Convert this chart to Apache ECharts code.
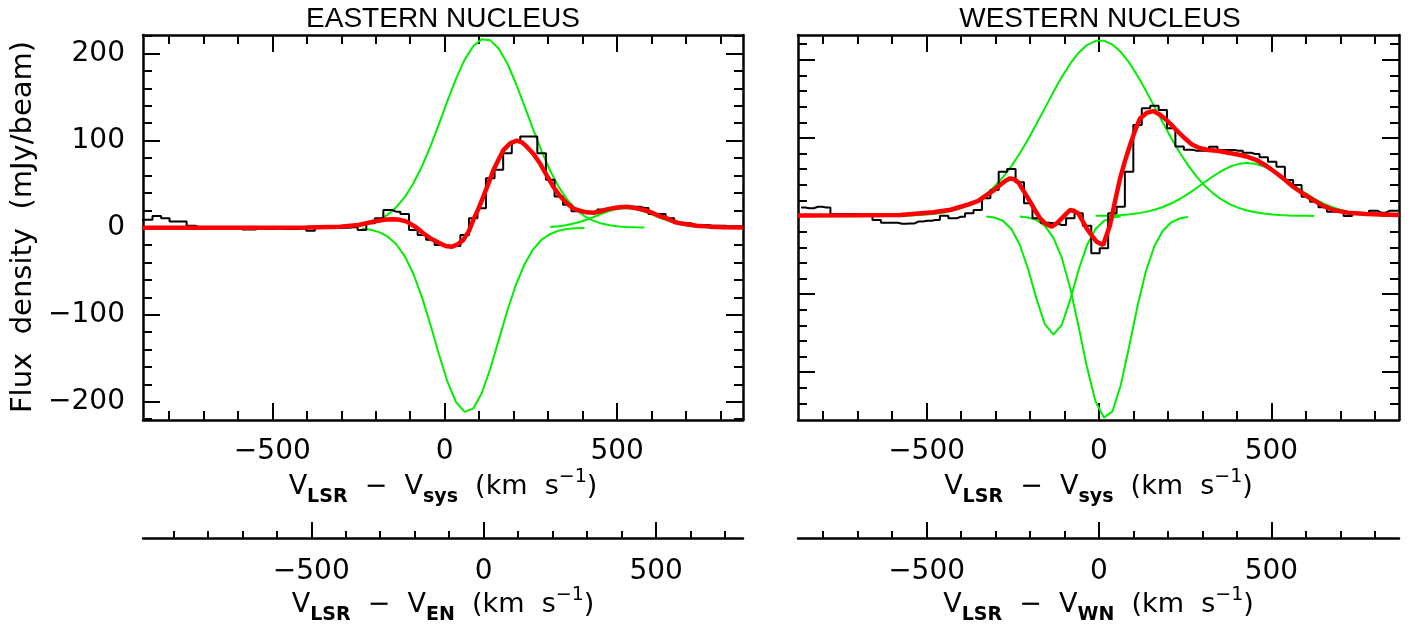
<!DOCTYPE html>
<html>
<head>
<meta charset="utf-8">
<title>Eastern / Western nucleus spectra</title>
<script src="https://cdn.jsdelivr.net/npm/echarts@6/dist/echarts.min.js"></script>
<style>
  html, body { margin: 0; padding: 0; background: #fff; }
  #main { width: 1418px; height: 628px; }
</style>
</head>
<body>
<div id="main"></div>
<script>
// ---- eastern nucleus: channel velocity (km/s) and flux density (mJy/beam)
const enVel = [-885, -860, -835, -810, -786, -761, -736, -711, -686, -662, -637, -612, -587, -562, -538, -513, -488, -463,
  -438, -414, -389, -364, -339, -314, -290, -265, -240, -215, -190, -166, -141, -116, -91, -66, -42, -17, 8, 33, 58, 83,
  107, 132, 157, 182, 207, 231, 256, 281, 306, 331, 355, 380, 405, 430, 455, 479, 504, 529, 554, 579, 603, 628, 653, 678,
  703, 727, 752, 777, 802, 827, 851, 876];
const enFlux = [9, 9, 13.4, 10.8, 7, 7, 2.3, 0.3, 0.3, -1.5, 0, 0, -2, -2, -1, -1.5, -1, -1.5, -1.5, -1, -3.6, -0.5, -0.5,
  0, 0, 0.5, -2.6, 5, 10.8, 20.3, 18.4, 15.7, -2.6, -8.4, -14, -19.8, -21.7, -21, -8.4, 10.8, 22.3, 56.8, 66.4, 85.6, 99,
  104.7, 104.7, 85.6, 55, 35.8, 26.2, 19, 17, 18, 21, 21.5, 23.5, 24, 24, 22.7, 15.7, 15.7, 10.8, 5, 5, 3, 3, 2.3, 2.3,
  1.5, 1.5, 1.5];
// total fit (red)
const enFit = [[-875, 0], [-600, 0], [-400, 0.3], [-304, 1.2], [-250, 3], [-207, 7], [-170, 9.3], [-149, 9.6], [-130, 9],
  [-110, 7], [-85, 1], [-62, -6.5], [-38, -13], [-14, -18], [3, -21], [20, -22], [38, -19], [54, -14], [70, -4], [83, 8.9],
  [97, 21], [112, 35.6], [127, 51], [141, 66], [156, 78], [170, 89], [190, 97], [209, 100], [224, 98], [238, 93], [257, 85],
  [276, 74], [296, 60], [315, 47], [335, 36], [354, 28], [373, 22], [392, 19.5], [412, 17.6], [431, 17.2], [450, 18.5],
  [470, 21], [489, 22.5], [508, 23.4], [528, 24], [547, 23], [566, 21.5], [586, 19.5], [605, 16.5], [625, 13], [644, 10.8],
  [664, 7], [683, 5], [702, 3.9], [730, 2.3], [769, 1.2], [810, 0.6], [865, 0.3]];
// fit components (green)
const enEmission = [[-240, 3.0], [-215, 5.4], [-190, 9.1], [-166, 14.7], [-141, 23.2], [-116, 35.0], [-91, 50.7], [-66, 70.5],
  [-42, 92.8], [-17, 118.7], [8, 145.6], [33, 171.2], [58, 193.0], [83, 208.7], [107, 216.3], [132, 215.4], [157, 205.6],
  [182, 188.3], [207, 165.3], [231, 140.2], [256, 113.4], [281, 87.9], [306, 65.4], [331, 46.6], [355, 32.4], [380, 21.2],
  [405, 13.4], [430, 8.1], [455, 4.7], [479, 2.7], [504, 1.4], [529, 0.7], [554, 0.4], [579, 0.2]];
const enAbsorption = [[-240, -1.0], [-215, -2.4], [-190, -5.1], [-166, -10.0], [-141, -18.7], [-116, -32.6], [-91, -52.9],
  [-66, -79.8], [-42, -110.7], [-17, -145.1], [8, -176.9], [33, -200.5], [58, -211.6], [83, -207.6], [107, -190.5],
  [132, -162.3], [157, -128.6], [182, -94.8], [207, -65.0], [231, -42.3], [256, -25.2], [281, -13.9], [306, -7.2],
  [331, -3.4], [355, -1.6], [380, -0.7], [405, -0.3]];
const enWing = [[306, 0.8], [331, 1.7], [355, 3.0], [380, 5.3], [405, 8.3], [430, 12.0], [455, 16.0], [479, 19.4],
  [504, 21.8], [529, 22.5], [554, 21.2], [579, 18.4], [603, 14.8], [628, 10.8], [653, 7.2], [678, 4.5], [703, 2.5],
  [727, 1.3], [752, 0.6]];

// ---- western nucleus
const wnVel = [-864, -840, -815, -791, -767, -742, -718, -693, -669, -645, -620, -596, -571, -547, -523, -498, -474, -449,
  -425, -401, -376, -352, -327, -303, -279, -254, -230, -205, -181, -157, -132, -108, -83, -59, -35, -10, 14, 39, 63, 87,
  112, 136, 161, 185, 209, 234, 258, 283, 307, 331, 356, 380, 405, 429, 453, 478, 502, 527, 551, 575, 600, 624, 649, 673,
  697, 722, 746, 771, 795, 819, 844, 868];
const wnFlux = [11, 10, 11.9, 11, 2.6, 2.6, 2.6, 2.6, 2.6, -5, -8.6, -8.6, -10, -9.5, -7, -6, -5.1, 0.4, -3, -0.9, 3.4, 7.7,
  22.6, 33.3, 56.7, 60.2, 43.1, 16.2, -3, -8.6, -9.4, -11.5, -3, 3.4, -12.4, -47.8, -41.4, 3.4, 11.9, 56.7, 116.5, 137.9,
  141.2, 135.7, 112.3, 89, 85, 83.6, 83.6, 88.7, 84.5, 84.5, 83.6, 81, 79.4, 75.1, 69.5, 63.1, 46.1, 39.7, 24.7, 18.3, 11.1,
  5.5, 5.5, 0, 3.4, 3.4, 6.8, 4.3, 6.8, 6.8];
const wnFit = [[-873, 0.8], [-700, 1], [-577, 1.3], [-480, 4.7], [-430, 8], [-384, 14.1], [-350, 19.5], [-326, 26.9],
  [-305, 33], [-287, 39.7], [-270, 45.5], [-258, 48.2], [-246, 47], [-234, 43.1], [-217, 31], [-200, 18.3], [-185, 7],
  [-171, -3], [-155, -10], [-137, -13.7], [-122, -9], [-108, -3], [-96, 2.5], [-84, 7.7], [-72, 6.5], [-60, 3.4], [-48, -6],
  [-36, -15.8], [-21, -25], [-7, -32.9], [12, -37.1], [32, -11.5], [46, 18], [61, 48.2], [75, 70], [90, 90.9], [105, 110],
  [119, 125], [138, 132], [157, 134.4], [176, 130], [196, 123], [220, 112], [244, 101.5], [268, 92], [293, 86.7],
  [317, 84.5], [341, 83.6], [375, 81], [409, 78.1], [433, 75.5], [457, 71.7], [486, 64], [515, 54.7], [540, 46],
  [563, 37.5], [592, 28.5], [621, 20.5], [650, 13], [680, 7.7], [720, 4.3], [776, 2.6], [870, 1.3]];
const wnBroad = [[-645, 0.1], [-620, 0.1], [-596, 0.2], [-571, 0.4], [-547, 0.7], [-523, 1.2], [-498, 1.9], [-474, 2.9],
  [-449, 4.6], [-425, 6.9], [-401, 10.0], [-376, 14.6], [-352, 20.4], [-327, 28.3], [-303, 37.8], [-279, 49.5], [-254, 63.9],
  [-230, 80.0], [-205, 98.7], [-181, 118.1], [-157, 138.2], [-132, 159.0], [-108, 177.9], [-83, 195.4], [-59, 209.1],
  [-35, 218.9], [-10, 224.3], [14, 224.5], [39, 219.5], [63, 210.1], [87, 196.7], [112, 179.4], [136, 160.6], [161, 139.8],
  [185, 119.7], [209, 100.2], [234, 81.4], [258, 65.2], [283, 50.5], [307, 38.7], [331, 29.0], [356, 20.9], [380, 15.0],
  [405, 10.4], [429, 7.1], [453, 4.7], [478, 3.1], [502, 2.0], [527, 1.2], [551, 0.7], [575, 0.4], [600, 0.3], [624, 0.1]];
const wnAbsBlue = [[-327, -0.5], [-303, -2.0], [-279, -6.1], [-254, -16.6], [-230, -36.5], [-205, -68.8], [-181, -106.4],
  [-157, -138.5], [-132, -152], [-108, -139.5], [-83, -106.4], [-59, -68.8], [-35, -37.5], [-10, -16.6], [14, -6.4],
  [39, -2.0], [63, -0.5]];
const wnAbsDeep = [[-230, -0.6], [-205, -2.0], [-181, -5.3], [-157, -12.6], [-132, -27.9], [-108, -53.3], [-83, -93.1],
  [-59, -141.9], [-35, -193.4], [-10, -237.5], [14, -258.1], [39, -250.1], [63, -216.7], [87, -168.0], [112, -114.5],
  [136, -70.7], [161, -38.1], [185, -18.8], [209, -8.3], [234, -3.1], [258, -1.1]];
const wnRed = [[-10, 0.2], [14, 0.4], [39, 0.7], [63, 1.3], [87, 2.1], [112, 3.4], [136, 5.3], [161, 8.0], [185, 11.5],
  [209, 16.0], [234, 21.8], [258, 28.3], [283, 35.9], [307, 43.5], [331, 50.9], [356, 57.8], [380, 63.2], [405, 66.8],
  [429, 68.0], [453, 66.9], [478, 63.5], [502, 58.3], [527, 51.5], [551, 44.1], [575, 36.5], [600, 28.9], [624, 22.3],
  [649, 16.5], [673, 11.9], [697, 8.3], [722, 5.5], [746, 3.5], [771, 2.2], [795, 1.3], [819, 0.8], [844, 0.4], [868, 0.2]];

// ---- ticks
const xMajor = [-500, 0, 500];
const xMinor = [-900, -800, -700, -600, -400, -300, -200, -100, 100, 200, 300, 400, 600, 700, 800];
const yMajor = [-200, -100, 0, 100, 200];
const yMinor = [-240, -220, -180, -160, -140, -120, -80, -60, -40, -20, 20, 40, 60, 80, 120, 140, 160, 180, 220];

const FONT = '"DejaVu Sans", sans-serif';
const TITLE_FONT = '"Liberation Sans", Arial, sans-serif';
const BLACK = '#000';
const GREEN = '#00ee00';
const RED = '#ff0000';

const fmt = v => (v < 0 ? '\u2212' + Math.abs(v) : String(v));
const xName = sub => '{m|V}{s|LSR}{m|  \u2212  V}{s|' + sub + '}{m|  (km  s}{p|\u22121}{m|)}';
const rich = {
  m: {fontSize: 27, lineHeight: 27, padding: [10, 0, 0, 0], verticalAlign: 'top', fontFamily: FONT, color: BLACK},
  s: {fontSize: 19, lineHeight: 19, padding: [25, 0, 0, 0], verticalAlign: 'top', fontFamily: FONT, fontWeight: 'bold', color: BLACK},
  p: {fontSize: 19, lineHeight: 19, padding: [5, 0, 0, 0], verticalAlign: 'top', fontFamily: FONT, color: BLACK}
};

function axis (grid, position, range, values, len, o) {
  o = o || {};
  const vals = values.filter(v => v > range[0] && v < range[1]);
  return {
    type: 'value', gridIndex: grid, position: position, offset: o.offset || 0,
    min: range[0], max: range[1],
    axisLine: {show: !!o.line, onZero: false, lineStyle: {color: BLACK, width: 2.5}},
    axisTick: {show: true, inside: true, length: len, customValues: vals, lineStyle: {color: BLACK, width: 2}},
    axisLabel: o.label ? {
      show: true, customValues: vals, margin: o.margin, formatter: fmt,
      fontSize: 28, lineHeight: 28, fontFamily: FONT, color: BLACK
    } : {show: false},
    splitLine: {show: false},
    name: o.name || '', nameLocation: 'middle', nameGap: o.nameGap || 0, nameMoveOverlap: false,
    nameTextStyle: {rich: rich}
  };
}

function line (xi, yi, data, color, width, extra) {
  return Object.assign({
    type: 'line', xAxisIndex: xi, yAxisIndex: yi, data: data, symbol: 'none', showSymbol: false,
    silent: true, lineStyle: {color: color, width: width}
  }, extra || {});
}

const zip = (a, b) => a.map((v, i) => [v, b[i]]);

// one panel = 6 x axes + 4 y axes on the same grid
const panels = [
  {x: [-875, 865], x2: [-988, 752], y: [-220.9, 221.3], sub2: 'EN', yLabels: true,
    hist: zip(enVel, enFlux), fit: enFit, comps: [enEmission, enAbsorption, enWing]},
  {x: [-873, 870], x2: [-873, 870], y: [-261.2, 231.8], sub2: 'WN', yLabels: false,
    hist: zip(wnVel, wnFlux), fit: wnFit, comps: [wnBroad, wnAbsBlue, wnAbsDeep, wnRed]}
];

const xAxis = [], yAxis = [], series = [];
panels.forEach((p, g) => {
  const xi = xAxis.length, yi = yAxis.length;
  xAxis.push(
    axis(g, 'bottom', p.x, xMajor, 17, {line: true, label: true, margin: 18, name: xName('sys'), nameGap: 43}),
    axis(g, 'bottom', p.x, xMinor, 9),
    axis(g, 'top', p.x, xMajor, 17, {line: true}),
    axis(g, 'top', p.x, xMinor, 9),
    axis(g, 'bottom', p.x2, xMajor, 16, {line: true, label: true, offset: 118, margin: 20, name: xName(p.sub2), nameGap: 43}),
    axis(g, 'bottom', p.x2, xMinor, 7, {offset: 118})
  );
  yAxis.push(
    axis(g, 'left', p.y, yMajor, 17, {line: true, label: p.yLabels, margin: 18}),
    axis(g, 'left', p.y, yMinor, 9),
    axis(g, 'right', p.y, yMajor, 17, {line: true}),
    axis(g, 'right', p.y, yMinor, 9)
  );
  p.comps.forEach(c => series.push(line(xi, yi, c, GREEN, 2)));
  series.push(line(xi, yi, p.hist, BLACK, 2, {step: 'middle'}));
  series.push(line(xi, yi, p.fit, RED, 4.5));
});

const option = {
  animation: false,
  backgroundColor: '#fff',
  grid: [
    {left: 143, top: 35, width: 600, height: 385, outerBoundsMode: 'none'},
    {left: 798, top: 35, width: 601, height: 385, outerBoundsMode: 'none'}
  ],
  xAxis: xAxis,
  yAxis: yAxis,
  series: series,
  graphic: [
    {type: 'text', x: 443, y: 5, style: {text: 'EASTERN NUCLEUS', fontSize: 28, fontFamily: TITLE_FONT, fill: BLACK, align: 'center', verticalAlign: 'top'}},
    {type: 'text', x: 1100, y: 5, style: {text: 'WESTERN NUCLEUS', fontSize: 28, fontFamily: TITLE_FONT, fill: BLACK, align: 'center', verticalAlign: 'top'}},
    {type: 'text', x: 23, y: 227, rotation: Math.PI / 2,
      style: {text: 'Flux  density  (mJy/beam)', fontSize: 29, fontFamily: FONT, fill: BLACK, align: 'center', verticalAlign: 'middle'}}
  ]
};

const chart = echarts.init(document.getElementById('main'));
chart.setOption(option);
window.addEventListener('resize', function () {
  chart.resize();
});
</script>
</body>
</html>
